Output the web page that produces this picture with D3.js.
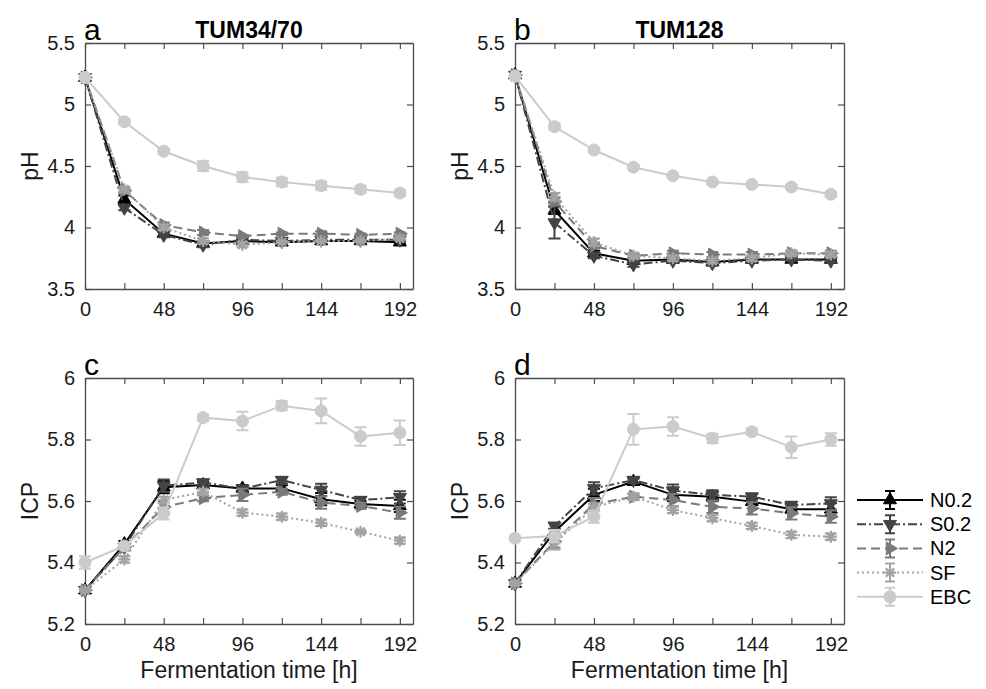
<!DOCTYPE html>
<html><head><meta charset="utf-8">
<script src="https://cdn.jsdelivr.net/npm/d3@7"></script>
<style>
body{margin:0;background:#fff;}
text{font-family:"Liberation Sans",Arial,Helvetica,sans-serif;}
</style></head>
<body><svg id="chart" width="986" height="689"></svg>
<script>
const times = [0,24,48,72,96,120,144,168,192];
const seriesNames = ["N0.2","S0.2","N2","SF","EBC"];
const xTicks = [0,24,48,72,96,120,144,168,192];
const pHTicks = [3.5,4,4.5,5,5.5];
const icpTicks = [5.2,5.4,5.6,5.8,6];

// Panel a: pH, TUM34/70
const pH_A_N02 = [5.22,4.23,3.95,3.87,3.89,3.88,3.89,3.89,3.88];
const pH_A_S02 = [5.22,4.16,3.94,3.86,3.90,3.89,3.90,3.90,3.90];
const pH_A_N2  = [5.22,4.30,4.02,3.96,3.93,3.95,3.95,3.94,3.95];
const pH_A_SF  = [5.22,4.31,4.00,3.89,3.86,3.88,3.89,3.89,3.91];
const pH_A_EBC = [5.22,4.86,4.62,4.50,4.41,4.37,4.34,4.31,4.28];
const pH_A_N02_err = [0.01,0.03,0.02,0.02,0.01,0.01,0.01,0.01,0.01];
const pH_A_S02_err = [0.01,0.02,0.02,0.02,0.01,0.01,0.01,0.01,0.01];
const pH_A_N2_err  = [0.01,0.02,0.02,0.02,0.01,0.01,0.02,0.01,0.01];
const pH_A_SF_err  = [0.01,0.02,0.02,0.02,0.02,0.01,0.01,0.01,0.01];
const pH_A_EBC_err = [0.01,0.02,0.02,0.04,0.04,0.035,0.035,0.03,0.025];

// Panel b: pH, TUM128
const pH_B_N02 = [5.24,4.14,3.79,3.73,3.74,3.72,3.74,3.74,3.74];
const pH_B_S02 = [5.24,4.04,3.77,3.70,3.73,3.71,3.73,3.74,3.73];
const pH_B_N2  = [5.24,4.21,3.85,3.77,3.79,3.78,3.78,3.79,3.79];
const pH_B_SF  = [5.24,4.25,3.88,3.77,3.75,3.73,3.75,3.79,3.78];
const pH_B_EBC = [5.23,4.82,4.63,4.49,4.42,4.37,4.35,4.33,4.27];
const pH_B_N02_err = [0.01,0.03,0.02,0.02,0.01,0.01,0.01,0.01,0.01];
const pH_B_S02_err = [0.01,0.13,0.02,0.02,0.01,0.02,0.01,0.01,0.01];
const pH_B_N2_err  = [0.01,0.03,0.02,0.02,0.02,0.02,0.02,0.02,0.02];
const pH_B_SF_err  = [0.01,0.03,0.03,0.02,0.02,0.02,0.02,0.02,0.02];
const pH_B_EBC_err = [0.01,0.025,0.015,0.015,0.015,0.015,0.015,0.015,0.02];

// Panel c: ICP, TUM34/70
const icp_C_N02 = [5.31,5.46,5.645,5.652,5.641,5.641,5.606,5.59,5.584];
const icp_C_S02 = [5.31,5.45,5.65,5.66,5.64,5.668,5.636,5.603,5.612];
const icp_C_N2  = [5.31,5.45,5.58,5.609,5.62,5.63,5.595,5.584,5.562];
const icp_C_SF  = [5.31,5.41,5.603,5.63,5.562,5.549,5.529,5.50,5.471];
const icp_C_EBC = [5.40,5.454,5.56,5.871,5.86,5.91,5.893,5.81,5.822];
const icp_C_N02_err = [0.005,0.01,0.02,0.01,0.01,0.01,0.02,0.01,0.02];
const icp_C_S02_err = [0.005,0.01,0.02,0.01,0.01,0.01,0.02,0.01,0.02];
const icp_C_N2_err  = [0.005,0.01,0.02,0.01,0.02,0.01,0.02,0.01,0.02];
const icp_C_SF_err  = [0.005,0.01,0.01,0.01,0.01,0.01,0.01,0.005,0.01];
const icp_C_EBC_err = [0.02,0.01,0.02,0.01,0.03,0.015,0.04,0.03,0.04];

// Panel d: ICP, TUM128
const icp_D_N02 = [5.332,5.50,5.62,5.663,5.62,5.614,5.598,5.573,5.573];
const icp_D_S02 = [5.332,5.519,5.641,5.668,5.634,5.62,5.614,5.587,5.592];
const icp_D_N2  = [5.332,5.468,5.59,5.614,5.603,5.581,5.576,5.56,5.549];
const icp_D_SF  = [5.332,5.462,5.58,5.614,5.571,5.544,5.519,5.49,5.484];
const icp_D_EBC = [5.479,5.486,5.549,5.833,5.842,5.804,5.825,5.775,5.80];
const icp_D_N02_err = [0.005,0.01,0.02,0.01,0.02,0.015,0.01,0.01,0.02];
const icp_D_S02_err = [0.005,0.01,0.02,0.01,0.02,0.015,0.01,0.01,0.02];
const icp_D_N2_err  = [0.005,0.02,0.02,0.01,0.02,0.02,0.02,0.02,0.02];
const icp_D_SF_err  = [0.005,0.02,0.01,0.01,0.01,0.01,0.01,0.01,0.01];
const icp_D_EBC_err = [0.005,0.02,0.02,0.05,0.03,0.015,0.01,0.035,0.02];

const colors = {"N0.2":"#000000","S0.2":"#434343","N2":"#7a7a7a","SF":"#a3a3a3","EBC":"#cbcbcb"};
const dashes = {"N0.2":null,"S0.2":"9,3,2,3","N2":"9,5","SF":"2,3","EBC":null};
const markers = {"N0.2":"up","S0.2":"down","N2":"right","SF":"star","EBC":"circle"};

function markerPath(type, r){
  const a = r*0.866, h = r*0.5;
  if(type==="up") return `M0,${-r}L${a},${h}L${-a},${h}Z`;
  if(type==="down") return `M0,${r}L${a},${-h}L${-a},${-h}Z`;
  if(type==="right") return `M${r},0L${-h},${a}L${-h},${-a}Z`;
  return null;
}
function drawMarker(g, type, x, y, color){
  if(type==="circle"){
    g.append("circle").attr("cx",x).attr("cy",y).attr("r",6).attr("fill",color).attr("stroke",color);
  } else if(type==="star"){
    const r=6;
    let d="";
    for(let k=0;k<4;k++){
      const ang=k*Math.PI/4;
      d+=`M${x-r*Math.cos(ang)},${y-r*Math.sin(ang)}L${x+r*Math.cos(ang)},${y+r*Math.sin(ang)}`;
    }
    g.append("path").attr("d",d).attr("stroke",color).attr("stroke-width",2.2).attr("fill","none");
  } else {
    g.append("path").attr("d",markerPath(type,7.5)).attr("transform",`translate(${x},${y})`)
      .attr("fill",color).attr("stroke",color).attr("stroke-width",1);
  }
}

const panels = [
  {id:"a", title:"TUM34/70", ylabel:"pH", x0:85, x1:413, y0:43, y1:289, domain:[3.5,5.5], ticks:pHTicks,
   data:[pH_A_N02,pH_A_S02,pH_A_N2,pH_A_SF,pH_A_EBC], err:[pH_A_N02_err,pH_A_S02_err,pH_A_N2_err,pH_A_SF_err,pH_A_EBC_err]},
  {id:"b", title:"TUM128", ylabel:"pH", x0:515, x1:844, y0:43, y1:289, domain:[3.5,5.5], ticks:pHTicks,
   data:[pH_B_N02,pH_B_S02,pH_B_N2,pH_B_SF,pH_B_EBC], err:[pH_B_N02_err,pH_B_S02_err,pH_B_N2_err,pH_B_SF_err,pH_B_EBC_err]},
  {id:"c", title:null, ylabel:"ICP", x0:85, x1:413, y0:378, y1:624, domain:[5.2,6], ticks:icpTicks, xlabel:true,
   data:[icp_C_N02,icp_C_S02,icp_C_N2,icp_C_SF,icp_C_EBC], err:[icp_C_N02_err,icp_C_S02_err,icp_C_N2_err,icp_C_SF_err,icp_C_EBC_err]},
  {id:"d", title:null, ylabel:"ICP", x0:515, x1:844, y0:378, y1:624, domain:[5.2,6], ticks:icpTicks, xlabel:true,
   data:[icp_D_N02,icp_D_S02,icp_D_N2,icp_D_SF,icp_D_EBC], err:[icp_D_N02_err,icp_D_S02_err,icp_D_N2_err,icp_D_SF_err,icp_D_EBC_err]}
];

const svg = d3.select("#chart");
const axisColor = "#4d4d4d";
const fmtY = d => d3.format("~g")(d);

panels.forEach(p=>{
  const x = d3.scaleLinear().domain([0,200]).range([p.x0,p.x1]);
  const y = d3.scaleLinear().domain(p.domain).range([p.y1,p.y0]);
  const g = svg.append("g");
  const tk = 6;
  const bottom = g.append("g").attr("transform",`translate(0,${p.y1})`)
    .call(d3.axisBottom(x).tickValues(xTicks).tickSizeInner(-tk).tickSizeOuter(0).tickPadding(13)
      .tickFormat(d => d%48===0 ? d : ""));
  const top = g.append("g").attr("transform",`translate(0,${p.y0})`)
    .call(d3.axisTop(x).tickValues(xTicks).tickSizeInner(-tk).tickSizeOuter(0).tickFormat(""));
  const left = g.append("g").attr("transform",`translate(${p.x0},0)`)
    .call(d3.axisLeft(y).tickValues(p.ticks).tickSizeInner(-tk).tickSizeOuter(0).tickPadding(10).tickFormat(fmtY));
  const right = g.append("g").attr("transform",`translate(${p.x1},0)`)
    .call(d3.axisRight(y).tickValues(p.ticks).tickSizeInner(-tk).tickSizeOuter(0).tickFormat(""));
  [bottom,top,left,right].forEach(a=>{
    a.select(".domain").attr("stroke",axisColor).attr("stroke-width",1.3);
    a.selectAll(".tick line").attr("stroke",axisColor).attr("stroke-width",1.2);
    a.selectAll("text").attr("fill","#1a1a1a").style("font-size","20px")
      .style("font-family","'Liberation Sans',Arial,sans-serif");
  });
  bottom.selectAll("text").attr("dy","0.71em");

  p.data.forEach((vals,i)=>{
    const name = seriesNames[i];
    const col = colors[name];
    const errs = p.err[i];
    const sg = g.append("g");
    const line = d3.line().x((d,j)=>x(times[j])).y(d=>y(d));
    const path = sg.append("path").datum(vals).attr("d",line).attr("fill","none")
      .attr("stroke",col).attr("stroke-width",2);
    if(dashes[name]) path.attr("stroke-dasharray",dashes[name]);
    vals.forEach((v,j)=>{
      const cx = x(times[j]);
      const e = errs[j];
      const ya = y(v+e), yb = y(v-e);
      sg.append("path").attr("d",`M${cx},${ya}L${cx},${yb}M${cx-6},${ya}L${cx+6},${ya}M${cx-6},${yb}L${cx+6},${yb}`)
        .attr("stroke",col).attr("stroke-width",2).attr("fill","none");
      drawMarker(sg, markers[name], cx, y(v), col);
    });
  });

  g.append("text").attr("x",p.x0-1).attr("y",p.y0-3).text(p.id)
    .style("font-size","30px").attr("fill","#000");
  if(p.title){
    g.append("text").attr("x",(p.x0+p.x1)/2).attr("y",p.y0-5).attr("text-anchor","middle")
      .style("font-size","23px").style("font-weight","bold").attr("fill","#000").text(p.title);
  }
  g.append("text").attr("transform",`translate(${p.x0-47},${(p.y0+p.y1)/2}) rotate(-90)`)
    .attr("text-anchor","middle").style("font-size","23px").attr("fill","#1a1a1a").text(p.ylabel);
  if(p.xlabel){
    g.append("text").attr("x",(p.x0+p.x1)/2).attr("y",p.y1+54).attr("text-anchor","middle")
      .style("font-size","23px").attr("fill","#1a1a1a").text("Fermentation time [h]");
  }
});

const leg = svg.append("g");
const legY0 = 500, legDy = 24.2;
seriesNames.forEach((name,i)=>{
  const yy = legY0 + i*legDy;
  const col = colors[name];
  const ln = leg.append("line").attr("x1",857).attr("x2",923).attr("y1",yy).attr("y2",yy)
    .attr("stroke",col).attr("stroke-width",2);
  if(dashes[name]) ln.attr("stroke-dasharray",dashes[name]);
  const cx = 890;
  leg.append("path").attr("d",`M${cx},${yy-9}L${cx},${yy+9}M${cx-5},${yy-9}L${cx+5},${yy-9}M${cx-5},${yy+9}L${cx+5},${yy+9}`)
    .attr("stroke",col).attr("stroke-width",2).attr("fill","none");
  drawMarker(leg, markers[name], cx, yy, col);
  leg.append("text").attr("x",930).attr("y",yy+7).text(name)
    .style("font-size","20px").attr("fill","#000");
});
</script>
</body></html>
